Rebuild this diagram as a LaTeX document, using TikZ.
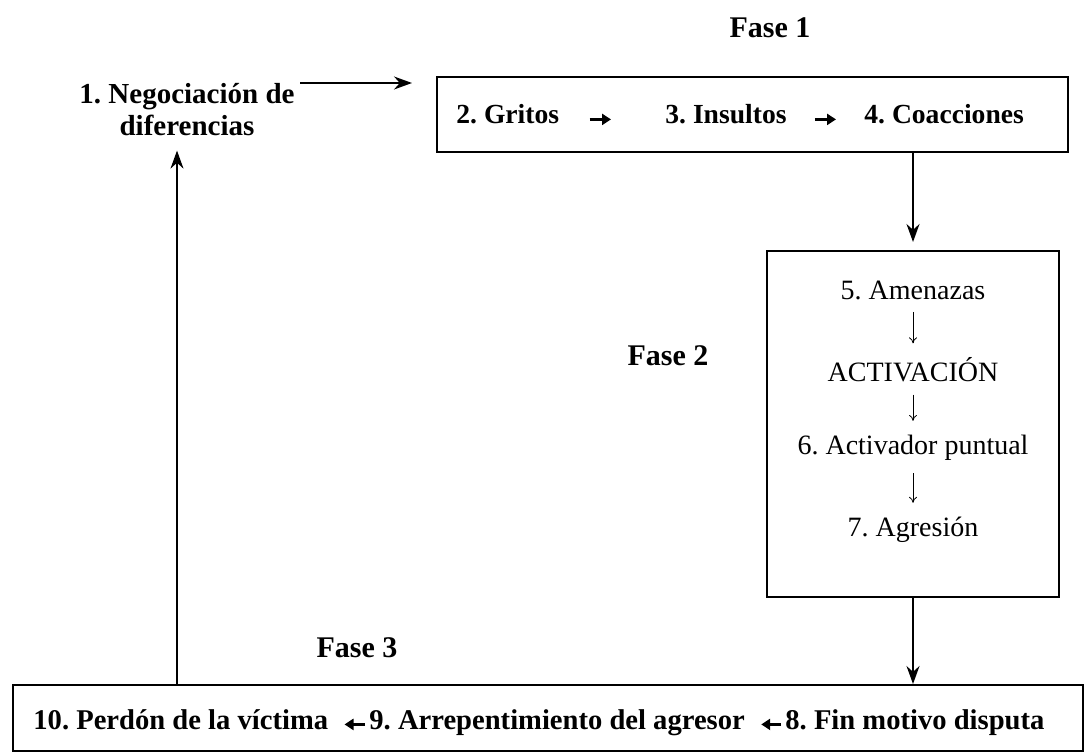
\documentclass[tikz,border=0pt]{standalone}
\usepackage{fontspec}
\setmainfont{Liberation Serif}
\usetikzlibrary{arrows.meta, positioning}
\frenchspacing

\tikzset{
  fase/.style={font=\bfseries\fontsize{15}{18}\selectfont},
  paso/.style={font=\bfseries\fontsize{13.8}{16}\selectfont, inner sep=0pt, anchor=base west},
  etapa/.style={font=\fontsize{14}{16}\selectfont, inner sep=0pt},
  caja/.style={draw, line width=1pt, inner sep=0pt},
  flecha/.style={-{Stealth[length=9pt,width=6.5pt]}, line width=0.8pt},
  flechita/.style={-{To[length=3pt,width=4pt]}, line width=0.4pt},
  flechagruesa/.style={-{Triangle[length=4.5pt,width=5.5pt]}, line width=1.7pt},
}

\begin{document}
\begin{tikzpicture}[x=0.5pt, y=-0.5pt]
\useasboundingbox (0,0) rectangle (1090,753);

% cajas de las fases
\node[caja, minimum width=315.5pt, minimum height=37.5pt] (caja1) at (752.5,114.5) {};
\node[caja, minimum width=146pt, minimum height=173pt] (caja2) at (913,424) {};
\node[caja, minimum width=535pt, minimum height=33pt] (caja3) at (548,718) {};

% titulos
\node[fase] (fase1) at (770,28) {Fase 1};
\node[fase] (fase2) at (668,356) {Fase 2};
\node[fase] (fase3) at (357,648) {Fase 3};

\node[align=center, inner sep=0pt, font=\bfseries\fontsize{14.5}{16}\selectfont] (negoc) at (187,110) {1. Negociación de\\diferencias};

% fase 1
\node[paso] (gritos) at (456,124) {2. Gritos};
\node[paso] (insultos) at (665,124) {3. Insultos};
\node[paso] (coac) at (864,124) {4. Coacciones};
\draw[flechagruesa, shorten <=15pt, shorten >=27pt] (gritos.mid east) -- (insultos.mid west);
\draw[flechagruesa, shorten <=14pt, shorten >=14pt] (insultos.mid east) -- (coac.mid west);

% fase 2
\node[etapa] (amenazas) at (913,290) {5. Amenazas};
\node[etapa] (activ) at (913,370) {ACTIVACIÓN};
\node[etapa] (puntual) at (913,448) {6. Activador puntual};
\node[etapa] (agresion) at (913,530) {7. Agresión};
\draw[flechita, shorten <=6pt, shorten >=7pt] (amenazas) -- (activ);
\draw[flechita, shorten <=6pt, shorten >=7pt] (activ) -- (puntual);
\draw[flechita, shorten <=6pt, shorten >=7pt] (puntual) -- (agresion);

% fase 3
\node[paso, font=\bfseries\fontsize{14.3}{16}\selectfont] (perdon) at (33,729) {10. Perdón de la víctima};
\node[paso, font=\bfseries\fontsize{14.3}{16}\selectfont] (arrep) at (369,729) {9. Arrepentimiento del agresor};
\node[paso, font=\bfseries\fontsize{14.3}{16}\selectfont] (fin) at (785,729) {8. Fin motivo disputa};
\draw[flechagruesa, shorten <=2pt, shorten >=8pt] (arrep.mid west) -- (perdon.mid east);
\draw[flechagruesa, shorten <=2pt, shorten >=8pt] (fin.mid west) -- (arrep.mid east);

% conexiones entre fases
\coordinate (ini) at (300,83);
\coordinate (hacia1) at (412,83);
\coordinate (retorno) at (177,685);
\draw[flecha] (ini) -- (hacia1);
\draw[flecha, shorten >=4pt] (caja1.south -| caja2.north) -- (caja2.north);
\draw[flecha] (caja2.south) -- (caja2.south |- caja3.north);
\draw[flecha, shorten >=7pt] (retorno) -- (retorno |- negoc.south);
\end{tikzpicture}
\end{document}
